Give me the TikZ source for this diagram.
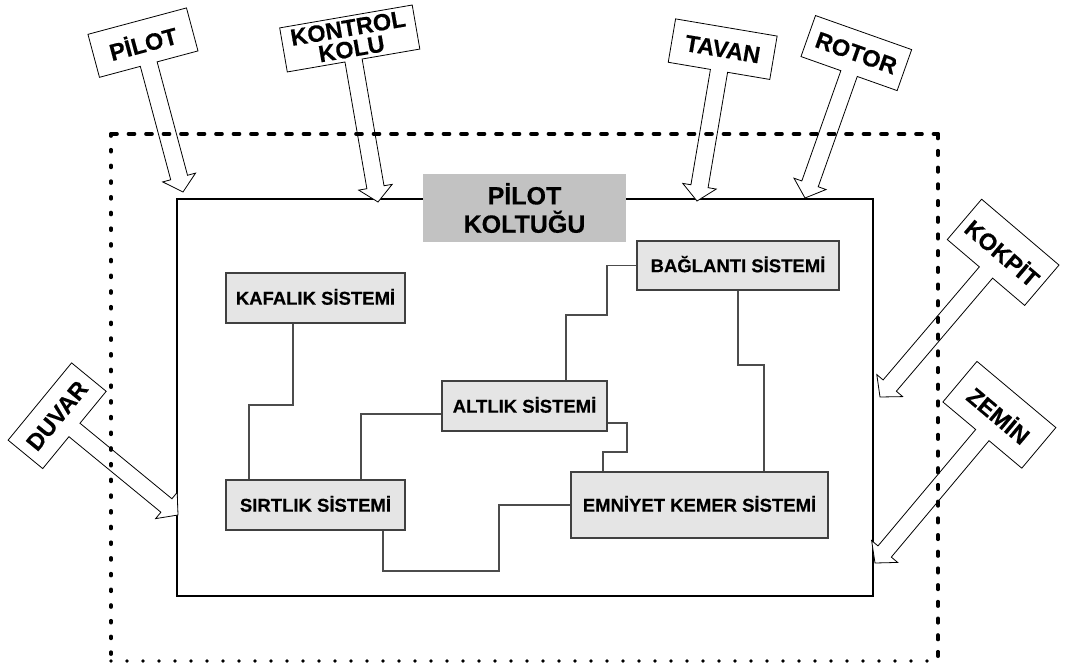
\documentclass[tikz,border=0pt]{standalone}
\usepackage{fontspec}
\setmainfont{Liberation Sans}[BoldFeatures={FakeBold=0.4}]

\definecolor{boxfill}{gray}{0.9}
\definecolor{boxedge}{gray}{0.25}
\definecolor{linkgray}{gray}{0.3}
\definecolor{titlefill}{gray}{0.76}

% Signpost: a tilted label on a hollow block arrow.
% #1 name, #2 x, #3 y (tip), #4 angle, #5 stem length, #6 label width,
% #7 label height, #8 text
\newcommand{\signpost}[8]{%
  \begin{scope}[shift={(#2,#3)},rotate=#4]
    \pgfmathsetmacro\sgW{#6/2}%
    \pgfmathsetmacro\sgT{#5+#7}%
    \pgfmathsetmacro\sgM{#5+#7/2}%
    \filldraw[signline] (0pt,0pt) -- (-17pt,15pt) -- (-8.7pt,15pt)
      -- (-8.7pt,#5pt) -- (-\sgW pt,#5pt) -- (-\sgW pt,\sgT pt)
      -- (\sgW pt,\sgT pt) -- (\sgW pt,#5pt) -- (8.7pt,#5pt)
      -- (8.7pt,15pt) -- (17pt,15pt) -- cycle;
    \node[signtext,rotate=#4] (#1) at (0pt,\sgM pt) {#8};
  \end{scope}}

\begin{document}
\begin{tikzpicture}[x=1pt,y=-1pt,
  sysbox/.style={draw=boxedge,fill=boxfill,line width=1.2pt,inner sep=0pt,
    font=\fontsize{18.5}{20}\selectfont\bfseries,text height=13.3pt,text depth=0pt},
  link/.style={draw=linkgray,line width=1.2pt},
  signline/.style={draw=black,fill=white,line width=0.8pt,line join=miter},
  signtext/.style={font=\fontsize{23.5}{21}\selectfont\bfseries,inner sep=0pt,
    align=center},
  border/.style={line width=3.6pt,line cap=round}]

\useasboundingbox (0,0) rectangle (1066,667);
\fill[white] (0,0) rectangle (1066,667);

% seat assembly frame
\draw[line width=1.3pt] (177,199) rectangle (873,596);

% title
\node[fill=titlefill,minimum width=203pt,minimum height=68pt,inner sep=0pt,
  align=center,font=\fontsize{25}{28.3}\selectfont\bfseries]
  (title) at (524.5,208) {PİLOT\\KOLTUĞU};

% subsystems
\node[sysbox,minimum width=179pt,minimum height=50pt] (kaf) at (315.5,298) {KAFALIK SİSTEMİ};
\node[sysbox,minimum width=179pt,minimum height=50pt] (sirt) at (315.5,505) {SIRTLIK SİSTEMİ};
\node[sysbox,minimum width=165pt,minimum height=50pt] (alt) at (524.5,406) {ALTLIK SİSTEMİ};
\node[sysbox,minimum width=202pt,minimum height=49pt] (bag) at (738,265.5) {BAĞLANTI SİSTEMİ};
\node[sysbox,minimum width=257pt,minimum height=66pt] (emn) at (699.5,505) {EMNİYET KEMER SİSTEMİ};

% links between subsystems
\draw[link] (kaf.south -| 293,0) -- (293,405) -| (sirt.north -| 249,0);
\draw[link] (sirt.north -| 361,0) |- (alt.west |- 0,414);
\draw[link] (alt.north -| 566,0) |- (607,315) |- (bag.west);
\draw[link] (alt.east |- 0,423) -| (627,452) -| (emn.north -| 603,0);
\draw[link] (sirt.south -| 383,0) |- (499,571) |- (emn.west);
\draw[link] (bag.south) |- (764,365) -- (emn.north -| 764,0);

% environment signposts
\signpost{pilot}{183}{192}{15}{132.4}{102}{44.5}{PİLOT}
\signpost{kontrol}{378}{202}{9.8}{143.6}{134.5}{44.7}{KONTROL\\KOLU}
\signpost{tavan}{697}{201}{-9.6}{132}{103}{44}{TAVAN}
\signpost{rotor}{805}{198}{-19.5}{132}{102}{43.5}{ROTOR}
\signpost{kokpit}{880}{397}{-40.4}{163.5}{101.6}{53}{KOKPİT}
\signpost{zemin}{875}{563}{-40}{167}{103}{53}{ZEMİN}
\signpost{duvar}{178}{515}{50.6}{134}{100}{44.8}{DUVAR}

% outer environment boundary
\draw[border,dash pattern=on 6pt off 11.5pt] (111,134) -- (938,134);
\draw[border,dash pattern=on 4.5pt off 12.2pt] (938,134) -- (938,661);
\draw[border,dash pattern=on 2pt off 13.7pt] (111,134) -- (111,661);
\draw[border,dash pattern=on 0pt off 16pt] (111,661) -- (938,661);
\end{tikzpicture}
\end{document}
